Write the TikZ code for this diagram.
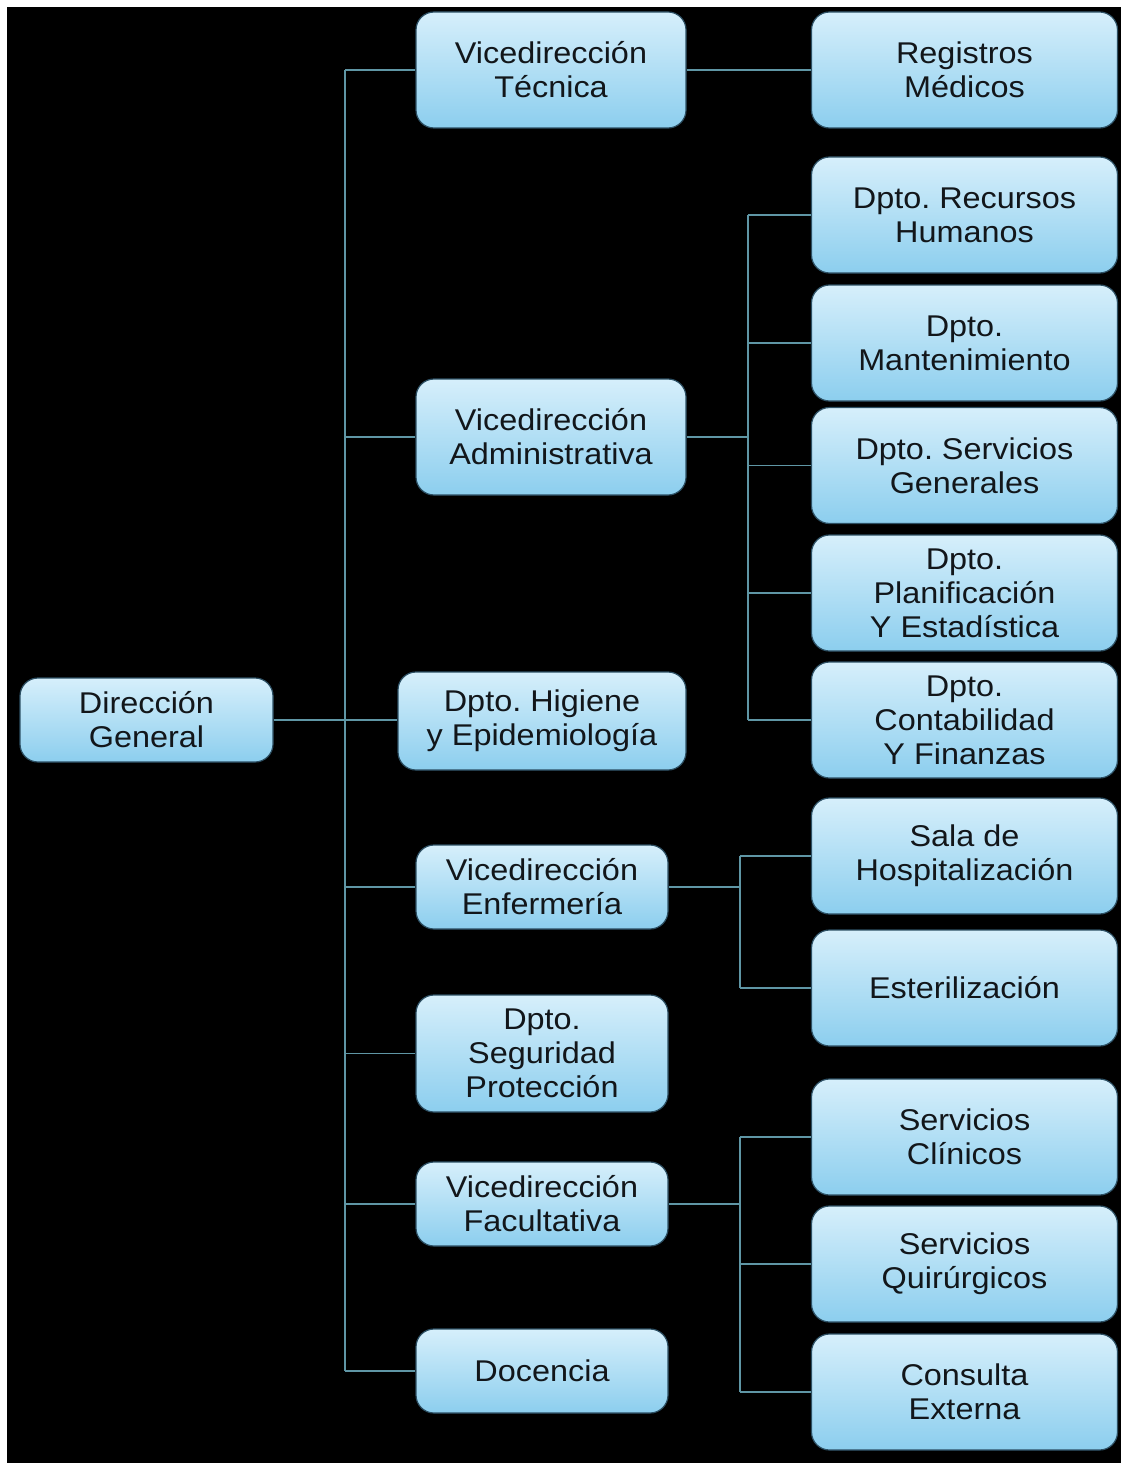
\documentclass[tikz,border=0pt]{standalone}
\usepackage{fontspec}
\setmainfont{Liberation Sans}[FakeStretch=1.08]
\usetikzlibrary{calc}
\definecolor{boxtop}{RGB}{214,239,251}
\definecolor{boxbot}{RGB}{140,206,238}
\definecolor{boxedge}{RGB}{45,80,100}
\definecolor{wire}{RGB}{95,150,165}
\definecolor{ink}{RGB}{18,22,26}
\tikzset{
  unit/.style={rounded corners=18pt, top color=boxtop, bottom color=boxbot,
    draw=boxedge, line width=1.2pt, align=center, inner sep=0pt,
    text=ink, font=\fontsize{30}{34}\selectfont\frenchspacing},
  wide/.style={unit, minimum width=306pt, minimum height=116pt},
  mid/.style={unit, minimum width=270pt, minimum height=116pt},
  midlow/.style={unit, minimum width=252pt, minimum height=84pt},
  midtall/.style={unit, minimum width=252pt, minimum height=117pt},
  link/.style={draw=wire, line width=1.6pt},
}
\begin{document}
\begin{tikzpicture}[x=1pt,y=-1pt]
% canvas
\fill[white] (0,0) rectangle (1121,1463);
\fill[black] (7,7) rectangle (1121,1463);
\useasboundingbox (0,0) rectangle (1121,1463);

% top level
\node[unit, minimum width=253pt, minimum height=84pt] (dg) at (146.5,720) {Dirección\\General};

% second level
\node[mid] (vt) at (551,70) {Vicedirección\\Técnica};
\node[mid] (va) at (551,437) {Vicedirección\\Administrativa};
\node[unit, minimum width=288pt, minimum height=98pt] (hi) at (542,721) {Dpto. Higiene\\y Epidemiología};
\node[midlow] (ve) at (542,887) {Vicedirección\\Enfermería};
\node[midtall] (sp) at (542,1053.5) {Dpto.\\Seguridad\\Protección};
\node[midlow] (vf) at (542,1204) {Vicedirección\\Facultativa};
\node[midlow] (do) at (542,1371) {Docencia};

% third level
\node[wide] (rm) at (964.5,70) {Registros\\Médicos};
\node[wide] (rh) at (964.5,215) {Dpto. Recursos\\Humanos};
\node[wide] (mt) at (964.5,343) {Dpto.\\Mantenimiento};
\node[wide] (sg) at (964.5,465.5) {Dpto. Servicios\\Generales};
\node[wide] (pe) at (964.5,593) {Dpto.\\Planificación\\Y Estadística};
\node[wide] (cf) at (964.5,720) {Dpto.\\Contabilidad\\Y Finanzas};
\node[wide] (sh) at (964.5,856) {Sala de\\Hospitalización};
\node[wide] (es) at (964.5,988) {Esterilización};
\node[wide] (sc) at (964.5,1137) {Servicios\\Clínicos};
\node[wide] (sq) at (964.5,1264) {Servicios\\Quirúrgicos};
\node[wide] (ce) at (964.5,1392) {Consulta\\Externa};

% x positions of the vertical bus lines
\coordinate (trunk) at (345,0);
\coordinate (adm) at (748,0);
\coordinate (enf) at (740,0);
\coordinate (fac) at (740,0);

\draw[link] (dg.east) -- (hi.west |- dg.east);
\draw[link] (trunk |- vt.west) -- (trunk |- do.west);
\foreach \n in {vt,va,ve,sp,vf,do} \draw[link] (trunk |- \n.west) -- (\n.west);

\draw[link] (vt.east) -- (rm.west);

\draw[link] (va.east) -- (adm |- va.east);
\draw[link] (adm |- rh.west) -- (adm |- cf.west);
\foreach \n in {rh,mt,sg,pe,cf} \draw[link] (adm |- \n.west) -- (\n.west);

\draw[link] (ve.east) -- (enf |- ve.east);
\draw[link] (enf |- sh.west) -- (enf |- es.west);
\foreach \n in {sh,es} \draw[link] (enf |- \n.west) -- (\n.west);

\draw[link] (vf.east) -- (fac |- vf.east);
\draw[link] (fac |- sc.west) -- (fac |- ce.west);
\foreach \n in {sc,sq,ce} \draw[link] (fac |- \n.west) -- (\n.west);
\end{tikzpicture}
\end{document}
